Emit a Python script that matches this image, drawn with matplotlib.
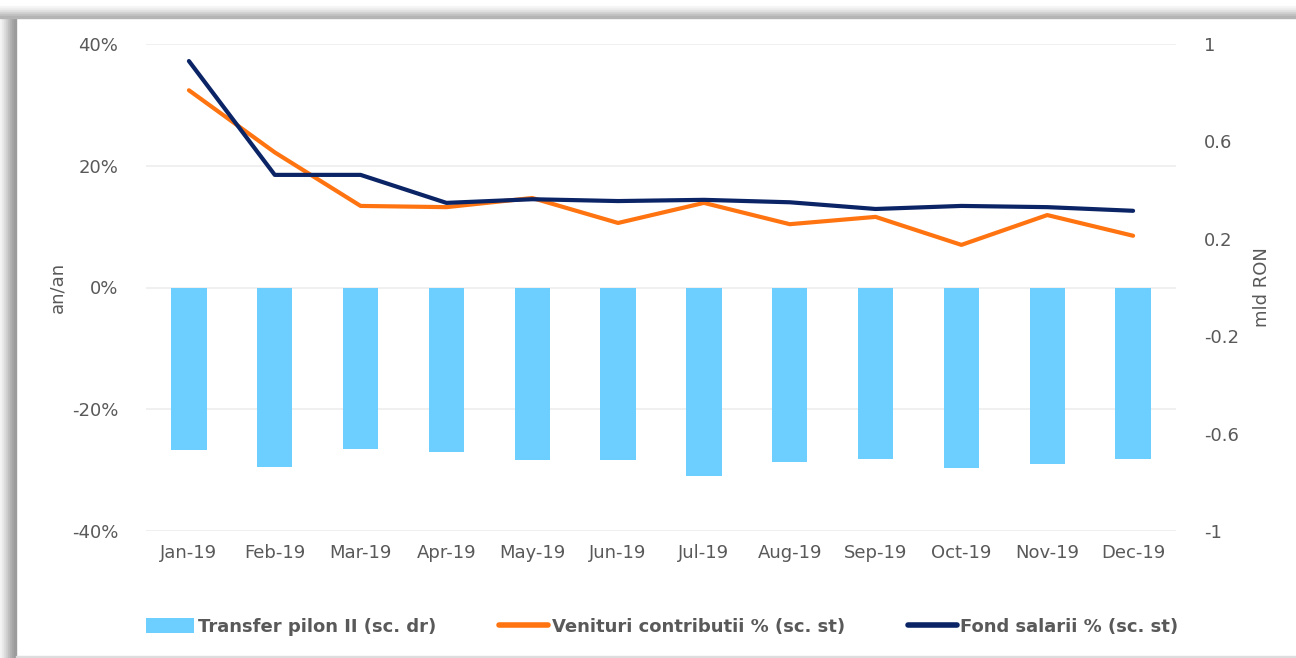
import matplotlib
matplotlib.use("Agg")
import matplotlib.pyplot as plt
from matplotlib.patches import Rectangle
from matplotlib.lines import Line2D
from matplotlib.patches import Patch

plt.rcParams["font.family"] = ["DejaVu Sans"]

months = ["Jan-19", "Feb-19", "Mar-19", "Apr-19", "May-19", "Jun-19",
          "Jul-19", "Aug-19", "Sep-19", "Oct-19", "Nov-19", "Dec-19"]
transfer_pilon = [-0.667, -0.737, -0.663, -0.676, -0.708, -0.708,
                  -0.774, -0.717, -0.704, -0.741, -0.725, -0.704]
venituri = [32.4, 22.2, 13.4, 13.2, 14.7, 10.6, 13.9, 10.4, 11.6, 7.0, 11.9, 8.5]
fond_salarii = [37.2, 18.5, 18.5, 13.9, 14.5, 14.2, 14.4, 14.0, 12.9, 13.4, 13.2, 12.6]
left_ticks = [-40, -20, 0, 20, 40]
right_ticks = [-1, -0.6, -0.2, 0.2, 0.6, 1]
right_labels = ["-1", "-0.6", "-0.2", "0.2", "0.6", "1"]

c_bar = "#6DCFFF"
c_orange = "#FF7410"
c_navy = "#0A2466"
c_text = "#595959"

W, H = 1296, 658
fig = plt.figure(figsize=(W / 100, H / 100), dpi=100)
fig.patch.set_facecolor("white")

# shadowed frame (left and top)
left_shades = ["#f4f4f4", "#eaeaea", "#dddddd", "#cfcfcf", "#c0c0c0",
               "#b2b2b2", "#a6a6a6", "#9c9c9c"]
for i, c in enumerate(left_shades):
    fig.patches.append(Rectangle((i * 2 / W, 0), 2 / W, 1 - 12 / H,
                                 transform=fig.transFigure, color=c, zorder=0))
top_shades = ["#f6f6f6", "#eeeeee", "#e2e2e2", "#d2d2d2", "#c2c2c2", "#b4b4b4"]
for i, c in enumerate(top_shades):
    fig.patches.append(Rectangle((0, 1 - (6 + (i + 1) * 2) / H), 1, 2 / H,
                                 transform=fig.transFigure, color=c, zorder=0))
fig.patches.append(Rectangle((16 / W, 0), 1, 2 / H, transform=fig.transFigure,
                             color="#dddddd", zorder=0))

ax = fig.add_axes([146 / W, 1 - 531 / H, (1176 - 146) / W, (531 - 44) / H])
ax2 = ax.twinx()
x = list(range(len(months)))

ax2.bar(x, transfer_pilon, width=0.41, color=c_bar, zorder=2)
ax.plot(x, venituri, color=c_orange, lw=3.0, solid_capstyle="round",
        solid_joinstyle="round", zorder=4)
ax.plot(x, fond_salarii, color=c_navy, lw=3.0, solid_capstyle="round",
        solid_joinstyle="round", zorder=5)

ax.set_xlim(-0.5, len(months) - 0.5)
ax.set_ylim(-40, 40)
ax2.set_ylim(-1, 1)
ax.set_yticks(left_ticks)
ax.set_yticklabels([f"{v}%" for v in left_ticks])
ax2.set_yticks(right_ticks)
ax2.set_yticklabels(right_labels)
ax.set_xticks(x)
ax.set_xticklabels(months)
ax.grid(axis="y", color="#EEEEEE", lw=1.2, zorder=0)
ax.set_axisbelow(True)

for a in (ax, ax2):
    for s in a.spines.values():
        s.set_visible(False)
    a.tick_params(length=0, labelsize=13, labelcolor=c_text)
ax.tick_params(axis="y", pad=20)
ax2.tick_params(axis="y", pad=20)
ax.tick_params(axis="x", pad=9)

ax.set_ylabel("an/an", fontsize=13, color=c_text, labelpad=4)
ax2.set_ylabel("mld RON", fontsize=13, color=c_text, labelpad=10)

handles = [Patch(facecolor=c_bar, edgecolor="none"),
           Line2D([0], [0], color=c_orange, lw=4, solid_capstyle="round"),
           Line2D([0], [0], color=c_navy, lw=4, solid_capstyle="round")]
labels = ["Transfer pilon II (sc. dr)", "Venituri contributii % (sc. st)",
          "Fond salarii % (sc. st)"]
leg = fig.legend(handles, labels, loc="center", bbox_to_anchor=(662 / W, 1 - 627 / H),
                 ncol=3, frameon=False, handlelength=2.7, handleheight=0.9,
                 handletextpad=0.2, columnspacing=3.5,
                 prop={"weight": "bold", "size": 13})
for t in leg.get_texts():
    t.set_color(c_text)

fig.savefig("out.png", dpi=100, facecolor="white")
